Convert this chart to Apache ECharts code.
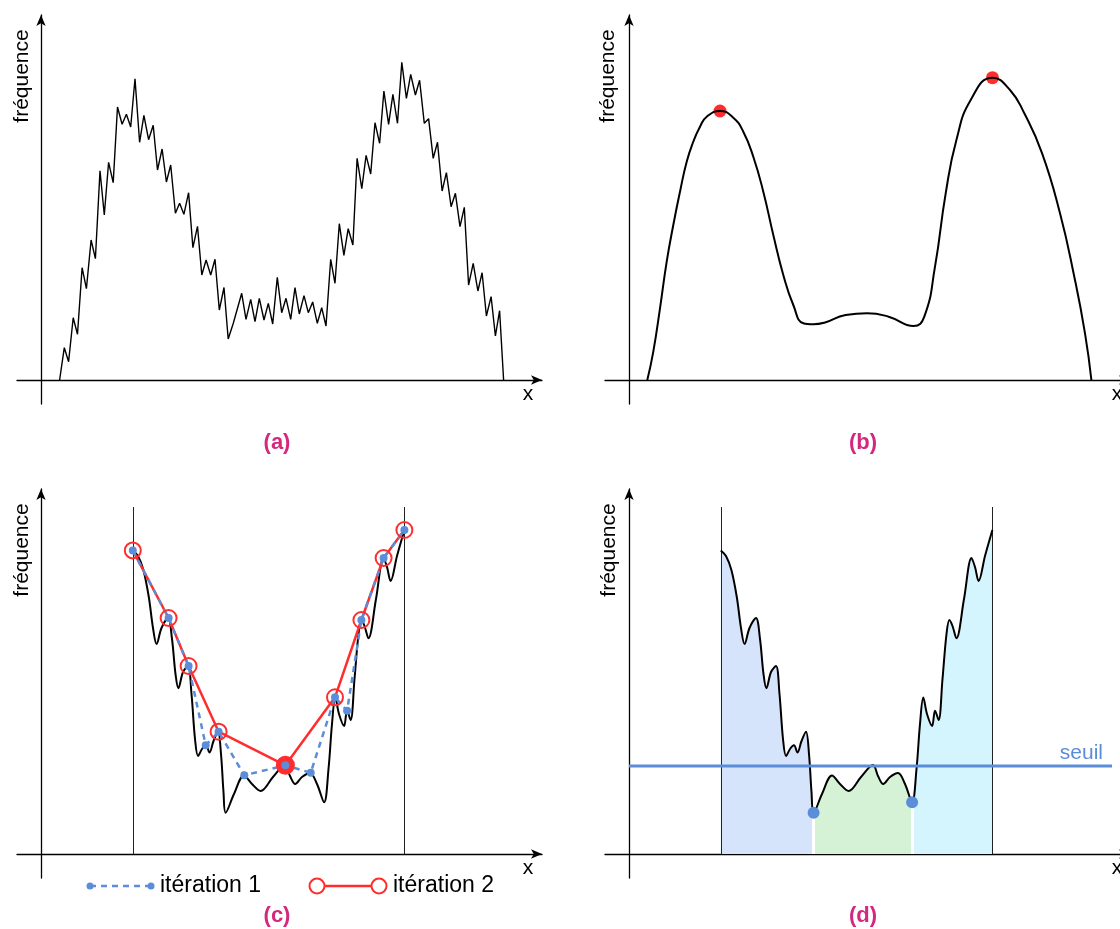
<!DOCTYPE html>
<html>
<head>
<meta charset="utf-8">
<title>Histogramme, lissage et seuil</title>
<script src="https://cdn.jsdelivr.net/npm/echarts@6/dist/echarts.min.js"></script>
<style>
  html, body { margin: 0; padding: 0; background: #fff; }
  #main { width: 1120px; height: 929px; }
</style>
</head>
<body>
<div id="main"></div>
<script>
// (a) histogramme brut
var histX = [18.6, 23.3, 27.6, 32.2, 36.5, 41.1, 45.4, 50.1, 54.4, 59, 63.3, 67.6, 72.2, 76.5, 81.1, 85.4, 89.7, 94, 98.6, 102.9,
  107.6, 112.2, 116.5, 121.1, 125.4, 129.7, 134.4, 138.6, 142.9, 147.6, 151.9, 156.5, 160.8, 165.1, 169.7, 174, 178.3, 183, 187.2, 192.3,
  200.7, 205, 209.7, 214, 218.3, 223, 227.3, 231.7, 236.3, 240.7, 245, 249.7, 254, 258.3, 263, 267.3, 271.7, 276.3, 280.7, 285,
  289.7, 294, 298.3, 302.9, 307.2, 311.9, 316.1, 320.8, 325.1, 329.7, 334, 338.6, 342.9, 347.6, 351.9, 356.5, 360.8, 365.4, 369.7, 374.4,
  378.6, 383.3, 387.6, 392.2, 396.5, 401.1, 405.4, 410.1, 414.4, 419, 423.3, 427.6, 432.2, 436.9, 441.1, 445.4, 450.1, 454.4, 458.6, 462.6];
var histY = [0, 32.3, 18.3, 62.3, 45.7, 112.3, 91.3, 140, 121.3, 209.3, 165, 217.7, 197.3, 273, 255.7, 265.7, 253, 301.3, 237.7, 264.7,
  240.3, 254.7, 210, 231, 198, 215, 166.7, 176.7, 165.7, 187.3, 132.3, 153.7, 105, 120, 105, 120.7, 70, 92.5, 41, 56.7,
  86.7, 60.7, 80.7, 58.3, 81.7, 60, 76.7, 56, 102.7, 67.3, 81.7, 60.7, 92.3, 66, 84.3, 67.3, 78, 56.7, 72.3, 54,
  120.7, 96.7, 156.3, 124.7, 151.3, 135, 221.7, 191.3, 224.7, 206, 257.3, 236.7, 289, 255.7, 285.7, 256.7, 317.7, 281.7, 305.7, 285,
  299.7, 256.7, 261.3, 221.7, 237.7, 189, 207.3, 173.3, 186.7, 153.3, 172.7, 95, 116.7, 89, 107.3, 64, 83.3, 44, 69.3, 0];

// (b) histogramme lissé et ses deux pics
var smoothX = [18.3, 24.3, 31, 37.7, 44.3, 51, 57.7, 64.3, 71, 77.7, 91, 104.3, 114.3, 124.3, 134.3, 144.3, 154.3, 164.3,
  174.3, 184.3, 195.3, 216.7, 238.1, 259.6, 284.6, 295.3, 306, 316.7, 327.4, 341.7, 363.5, 381, 395.3, 413.1, 431,
  445.3, 456, 462.4];
var smoothY = [0, 28.3, 71.7, 118.3, 155, 188.3, 218.3, 238.3, 253.3, 263.3, 269, 262.3, 248.3, 223.3, 188.3, 145, 105, 75,
  56.7, 55.7, 57.3, 65, 66.7, 63.3, 54, 63.3, 113.3, 186.7, 240, 280, 302.3, 290, 266.7, 226.7, 166.7,
  103.3, 46.7, 0];
var peakX = [91, 363.5];
var peakY = [269, 302.3];

// (c) et (d) : profil entre les deux pics
var profX = [91.8, 97, 102.4, 107.8, 112, 115.6, 120.5, 127, 131, 134.5, 137.4, 142, 147, 150.5, 154, 157.1, 161, 165,
  168.5, 172.5, 177, 180, 182.5, 184.6, 193, 203, 211, 219.6, 232, 244, 249, 254.2, 261, 269, 276, 283.1,
  287.5, 291, 294.3, 298, 303.1, 306, 309.6, 313.5, 317.5, 320.4, 323.5, 327.4, 335, 342.5, 346, 349.6, 356, 363.4];
var profY = [303.6, 298, 284, 257, 226, 210, 226, 236, 215, 180, 165.7, 182, 188, 160, 115, 98, 105, 108.7,
  101.5, 113, 122.3, 100, 62, 41.3, 60, 78.5, 70, 63, 77, 89, 78, 70, 77, 81, 70, 51.7,
  85, 130, 156.5, 140, 128, 143.3, 134, 175, 220, 234, 228, 215.7, 255, 296, 287, 273, 298, 324];
var boundX = [91.8, 363.4];
var boundTop = 347;

// maxima locaux (itération 1) et sous-ensemble retenu (itération 2)
var iter1X = [91.8, 127.6, 147.6, 164.7, 177.6, 203.3, 244.4, 269.7, 294, 306.1, 320.4, 342.6, 363.4];
var iter1Y = [303.6, 236, 188, 108.7, 122.3, 78.7, 88.7, 81.3, 156.7, 143.3, 234, 296, 324];
var iter2Idx = [0, 1, 2, 4, 6, 8, 10, 11, 12];
var iter2Best = 4;

// (d) seuil et minima
var seuilY = 88;
var seuilEnd = 483;
var minX = [184.6, 283.1];
var minY = [41.3, 51.7];

var BLUE = '#5b8dd8';
var RED = '#ff2d2d';
var MAGENTA = '#d4287f';
var FONT = '"Liberation Sans", Arial, Helvetica, sans-serif';
var zoneColors = ['#d5e4fb', '#d6f2d6', '#d4f4fe'];

function zip(xs, ys) {
  var out = [];
  for (var i = 0; i < Math.min(xs.length, ys.length); i++) {
    out.push([xs[i], ys[i]]);
  }
  return out;
}

// positions des quatre panneaux
var panels = [
  {left: 17, top: 15},
  {left: 605, top: 15},
  {left: 17, top: 489},
  {left: 605, top: 489}
];

var grids = [], xAxes = [], yAxes = [];
panels.forEach(function (p, i) {
  grids.push({left: p.left, top: p.top, width: 525, height: 389, containLabel: false, outerBoundsMode: 'none'});
  var line = {
    show: true, onZero: true,
    symbol: ['none', 'arrow'], symbolSize: [7, 11],
    lineStyle: {color: '#000', width: 1.3}
  };
  xAxes.push({
    type: 'value', gridIndex: i, min: -24, max: 501,
    axisLine: line, axisTick: {show: false}, axisLabel: {show: false}, splitLine: {show: false}
  });
  yAxes.push({
    type: 'value', gridIndex: i, min: -24, max: 365,
    axisLine: line, axisTick: {show: false}, axisLabel: {show: false}, splitLine: {show: false}
  });
});

function vLines(xs, top, color, width) {
  return {
    silent: true, symbol: 'none', animation: false, z: 3,
    label: {show: false},
    lineStyle: {color: color, width: width, type: 'solid'},
    emphasis: {disabled: true},
    data: xs.map(function (x, k) {
      var t = Array.isArray(top) ? top[k] : top;
      return [{coord: [x, 0]}, {coord: [x, t]}];
    })
  };
}

var profile = zip(profX, profY);
var iter1 = zip(iter1X, iter1Y);
var iter2 = iter2Idx.map(function (k, j) {
  var item = {value: [iter1X[k], iter1Y[k]]};
  if (j === iter2Best) {
    item.symbolSize = 17;
    item.itemStyle = {color: RED, borderColor: RED, borderWidth: 2};
  }
  return item;
});
var seuilData = [[0, seuilY], [seuilEnd, seuilY]];

var series = [
  // (a)
  {type: 'line', xAxisIndex: 0, yAxisIndex: 0, data: zip(histX, histY), symbol: 'none',
    lineStyle: {color: '#000', width: 1.4}},
  // (b)
  {type: 'line', xAxisIndex: 1, yAxisIndex: 1, data: zip(smoothX, smoothY), smooth: 0.5, symbol: 'none',
    lineStyle: {color: '#000', width: 2}},
  {type: 'scatter', xAxisIndex: 1, yAxisIndex: 1, data: zip(peakX, peakY), symbolSize: 13,
    itemStyle: {color: RED, opacity: 1}},
  // (c)
  {type: 'line', xAxisIndex: 2, yAxisIndex: 2, data: profile, smooth: 0.35, symbol: 'none',
    lineStyle: {color: '#000', width: 2}, markLine: vLines(boundX, boundTop, '#222', 1)},
  {type: 'line', name: 'itération 2', xAxisIndex: 2, yAxisIndex: 2, data: iter2, symbol: 'circle', symbolSize: 16,
    showAllSymbol: true,
    itemStyle: {color: 'rgba(255,255,255,0)', borderColor: RED, borderWidth: 2},
    lineStyle: {color: RED, width: 2.5}},
  {type: 'line', name: 'itération 1', xAxisIndex: 2, yAxisIndex: 2, data: iter1, symbol: 'circle', symbolSize: 8,
    showAllSymbol: true,
    itemStyle: {color: BLUE},
    lineStyle: {color: BLUE, width: 2.5, type: [6, 5]}},
  // (d) zones colorées
  {type: 'line', xAxisIndex: 3, yAxisIndex: 3, data: profile, smooth: 0.35, symbol: 'none', z: 1,
    lineStyle: {opacity: 0}, areaStyle: {opacity: 1},
    markLine: vLines(minX, minY, '#fff', 3)},
  {type: 'line', xAxisIndex: 3, yAxisIndex: 3, data: profile, smooth: 0.35, symbol: 'none', z: 4,
    lineStyle: {color: '#000', width: 2}, markLine: vLines(boundX, boundTop, '#222', 1)},
  {type: 'line', xAxisIndex: 3, yAxisIndex: 3, data: seuilData, symbol: 'none', z: 5,
    lineStyle: {color: BLUE, width: 3},
    endLabel: {show: true, formatter: 'seuil', color: BLUE, fontSize: 21, fontFamily: FONT,
      align: 'right', verticalAlign: 'bottom', offset: [-17, -2]}},
  {type: 'line', xAxisIndex: 3, yAxisIndex: 3, data: zip(minX, minY), symbol: 'circle', symbolSize: 12,
    showAllSymbol: true, z: 6,
    itemStyle: {color: BLUE}, lineStyle: {opacity: 0, width: 0}}
];

function txt(x, y, text, extra) {
  var s = {text: text, fill: '#000', fontSize: 21, fontFamily: FONT, align: 'center', verticalAlign: 'middle'};
  for (var k in extra) s[k] = extra[k];
  return {type: 'text', x: x, y: y, style: s, silent: true};
}

var elements = [];
[[22, 76], [608, 76], [22, 550], [609, 550]].forEach(function (p) {
  var t = txt(p[0], p[1], 'fréquence', {});
  t.rotation = Math.PI / 2;
  elements.push(t);
});
[[528, 394], [1117, 394], [528, 868], [1117, 868]].forEach(function (p) {
  elements.push(txt(p[0], p[1], 'x', {}));
});
[['(a)', 277, 443], ['(b)', 863, 443], ['(c)', 277, 916], ['(d)', 863, 916]].forEach(function (c) {
  elements.push(txt(c[1], c[2], c[0], {fill: MAGENTA, fontWeight: 'bold', fontSize: 22}));
});
// légende du panneau (c)
elements.push({type: 'line', silent: true, shape: {x1: 90, y1: 886, x2: 151, y2: 886},
  style: {stroke: BLUE, lineWidth: 2.5, lineDash: [6, 5]}});
elements.push({type: 'circle', silent: true, shape: {cx: 90, cy: 886, r: 3.5}, style: {fill: BLUE}});
elements.push({type: 'circle', silent: true, shape: {cx: 151, cy: 886, r: 3.5}, style: {fill: BLUE}});
elements.push(txt(160, 886, 'itération 1', {align: 'left', fontSize: 23}));
elements.push({type: 'line', silent: true, shape: {x1: 317, y1: 886, x2: 379, y2: 886},
  style: {stroke: RED, lineWidth: 2.5}});
elements.push({type: 'circle', silent: true, shape: {cx: 317, cy: 886, r: 7.5}, style: {fill: '#fff', stroke: RED, lineWidth: 2}});
elements.push({type: 'circle', silent: true, shape: {cx: 379, cy: 886, r: 7.5}, style: {fill: '#fff', stroke: RED, lineWidth: 2}});
elements.push(txt(393, 886, 'itération 2', {align: 'left', fontSize: 23}));

var myChart = echarts.init(document.getElementById('main'));
myChart.setOption({
  animation: false,
  backgroundColor: '#fff',
  textStyle: {fontFamily: FONT},
  grid: grids,
  xAxis: xAxes,
  yAxis: yAxes,
  visualMap: [{
    type: 'piecewise', show: false, seriesIndex: 6, dimension: 0,
    pieces: [
      {gte: boundX[0], lt: minX[0], color: zoneColors[0]},
      {gte: minX[0], lt: minX[1], color: zoneColors[1]},
      {gte: minX[1], lte: boundX[1], color: zoneColors[2]}
    ],
    outOfRange: {color: zoneColors[2]}
  }],
  series: series,
  graphic: {elements: elements}
});
</script>
</body>
</html>
